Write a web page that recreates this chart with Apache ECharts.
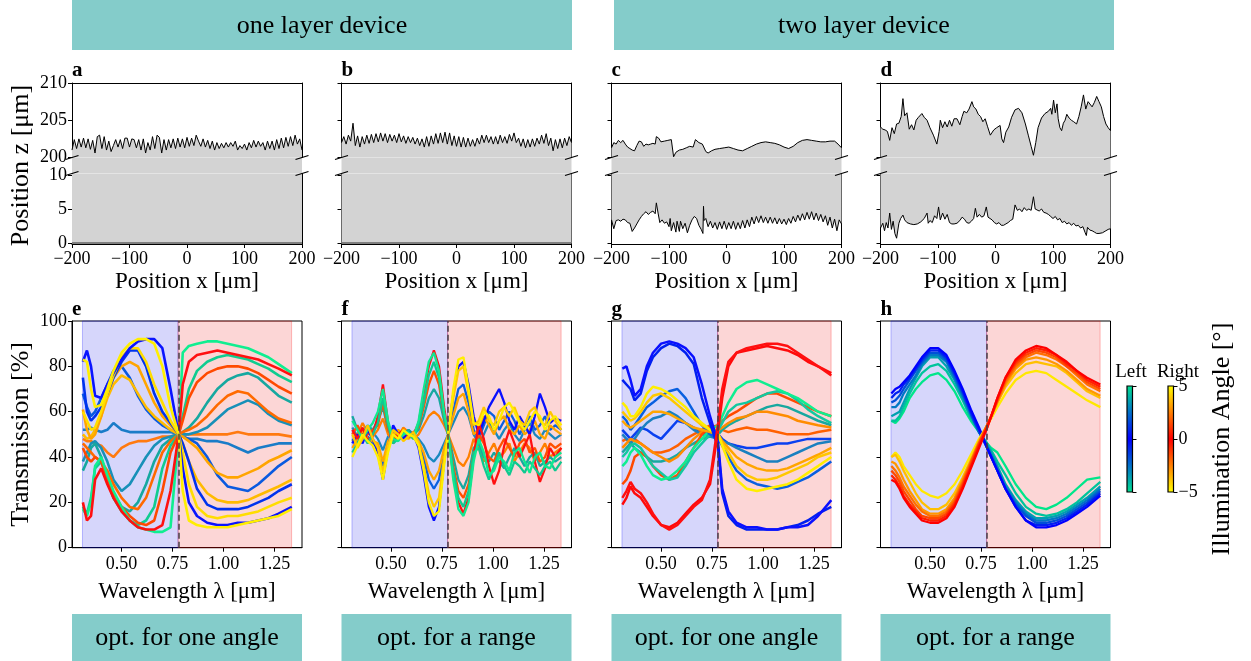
<!DOCTYPE html>
<html>
<head>
<meta charset="utf-8">
<script src="https://cdn.jsdelivr.net/npm/echarts@6/dist/echarts.min.js"></script>
<style>
  html, body { margin: 0; padding: 0; background: #fff; }
  #chart { width: 1251px; height: 661px; }
</style>
</head>
<body>
<div id="chart"></div>
<script>
/* ---------- profile data (top row, a-d) ---------- */
var X_STEP4 = [];
for (var v = -200; v <= 200; v += 4) X_STEP4.push(v);

var A_TOP = [
  201.0,202.4,201.2,202.5,201.4,202.6,201.3,202.5,201.1,202.3,
  200.6,202.8,203.0,201.2,202.8,201.0,202.2,200.8,201.6,202.4,
  201.4,202.4,201.2,202.6,202.6,201.4,202.5,202.4,201.3,202.4,
  201.0,202.5,200.6,202.0,201.0,202.8,201.2,203.0,202.7,200.6,
  202.4,201.0,202.4,201.3,202.5,201.2,202.6,201.4,202.5,201.3,
  202.7,201.5,202.6,201.6,203.0,202.2,201.5,202.5,201.4,202.3,
  201.2,202.2,201.0,202.0,201.2,201.9,201.3,202.0,201.4,202.0,
  201.5,202.2,201.0,201.6,201.2,201.8,201.0,202.0,201.3,202.3,
  201.4,202.2,201.5,202.0,201.0,202.2,201.2,202.2,201.0,202.4,
  201.2,202.6,201.3,202.7,201.5,202.8,201.6,203.0,201.8,202.5,
  201.0
];
var B_TOP = [
  202.0,202.8,201.8,203.0,202.2,204.6,201.6,202.9,201.4,202.8,
  201.8,203.0,201.9,203.1,202.0,203.2,202.1,203.3,202.2,203.2,
  202.0,203.1,202.2,203.0,202.0,203.2,202.1,202.9,201.9,202.8,
  202.0,202.7,201.8,202.6,201.6,202.5,201.4,202.8,201.5,202.9,
  201.8,203.2,201.9,203.3,202.0,203.4,201.8,203.3,201.6,202.9,
  201.5,202.8,201.4,202.7,201.4,202.6,201.5,202.4,201.5,202.6,
  201.8,203.0,202.0,203.0,202.0,202.8,201.8,202.8,201.8,203.0,
  202.0,202.8,201.9,203.1,202.2,203.3,202.0,202.6,201.5,202.5,
  201.3,202.4,201.4,202.5,201.5,202.6,201.8,203.0,201.9,203.2,
  201.6,202.6,200.9,202.4,201.2,202.5,201.3,202.6,201.6,202.8,
  202.0
];
var FLAT_BOTTOM = [[-200, 0], [200, 0]];
var GAP_FILL = [[-200, 1], [200, 1]];

var C_TOP = [[-200,201.3],[-196,202.0],[-192,201.8],[-188,202.3],[-184,202.0],[-180,202.3],[-176,201.8],[-172,201.4],
  [-168,201.2],[-164,201.0],[-160,200.9],[-156,201.6],[-152,202.2],[-148,202.1],[-144,201.5],[-140,201.8],[-136,201.7],
  [-132,201.8],[-128,201.9],[-124,201.8],[-122,202.8],[-118,202.6],[-114,202.1],[-108,202.2],[-102,202.3],[-96,202.4],
  [-93,202.3],[-92,200.1],[-88,200.7],[-82,201.0],[-76,201.1],[-70,201.3],[-64,201.5],[-58,201.4],[-54,202.4],[-52,202.3],
  [-48,202.0],[-42,201.8],[-36,200.8],[-32,200.6],[-26,200.9],[-20,201.1],[-12,201.2],[-4,201.3],[4,201.4],[12,201.2],
  [20,201.0],[28,200.9],[36,201.2],[44,201.5],[52,201.8],[60,202.0],[68,202.1],[76,202.0],[84,201.9],[92,201.7],
  [100,201.4],[108,201.2],[116,201.5],[124,202.0],[132,202.3],[140,202.4],[148,202.3],[156,202.2],[164,202.1],
  [172,202.1],[180,202.2],[188,202.2],[194,201.8],[200,201.3]];
var C_BOT = [[-200,3.4],[-196,2.1],[-192,3.3],[-188,3.4],[-184,3.2],[-180,3.5],[-176,3.4],[-172,3.0],[-168,2.9],
  [-164,1.7],[-160,2.2],[-156,2.8],[-152,3.4],[-148,3.9],[-144,4.3],[-140,4.6],[-136,4.2],[-132,4.5],[-128,4.7],
  [-124,4.3],[-122,5.9],[-119,4.4],[-116,3.0],[-112,3.4],[-108,2.9],[-104,3.1],[-100,2.4],[-98,3.6],[-96,1.8],
  [-92,3.0],[-88,1.6],[-86,3.2],[-82,1.7],[-80,3.2],[-76,2.1],[-72,2.9],[-68,1.5],[-64,2.6],[-60,3.4],[-56,3.9],
  [-52,3.6],[-48,2.6],[-44,2.0],[-41,1.4],[-40,5.4],[-39,3.3],[-36,3.6],[-32,2.4],[-28,3.2],[-24,2.2],[-20,3.0],
  [-16,2.0],[-12,3.1],[-8,2.1],[-4,3.2],[0,2.0],[4,3.0],[8,2.1],[12,3.2],[16,2.0],[20,3.0],[24,2.1],[28,3.3],
  [32,2.2],[36,3.4],[40,2.4],[44,3.8],[48,2.8],[52,3.9],[56,3.0],[60,4.0],[64,3.0],[68,3.8],[72,2.9],[76,3.8],
  [80,2.9],[84,3.7],[88,2.8],[92,3.6],[96,2.8],[100,3.5],[104,2.7],[108,3.6],[112,2.9],[116,3.9],[120,3.1],
  [124,4.1],[128,3.3],[132,4.3],[136,3.4],[140,4.5],[144,3.5],[148,4.6],[152,3.4],[156,4.4],[160,3.3],[164,4.2],
  [168,3.1],[172,4.0],[176,2.6],[180,3.8],[184,2.2],[188,3.5],[192,1.8],[196,3.4],[200,2.8]];

var D_TOP = [[-200,204.1],[-196,203.8],[-192,203.7],[-188,203.5],[-184,202.3],[-180,204.0],[-176,203.2],[-172,204.5],
  [-168,204.6],[-164,205.5],[-161,207.9],[-158,205.6],[-154,206.0],[-150,203.8],[-146,204.4],[-142,203.7],[-138,205.0],
  [-134,205.4],[-128,205.9],[-124,205.4],[-119,205.0],[-114,204.0],[-108,203.0],[-102,201.8],[-98,203.5],[-96,205.0],
  [-92,204.0],[-88,204.8],[-84,204.1],[-80,205.0],[-76,204.2],[-72,205.2],[-67,205.2],[-62,204.4],[-58,205.5],
  [-55,206.2],[-50,206.0],[-46,206.5],[-41,207.5],[-38,206.8],[-34,206.5],[-30,205.8],[-26,205.5],[-22,204.8],
  [-18,205.2],[-14,204.2],[-9,203.0],[-3,203.7],[2,204.0],[8,204.3],[11,202.5],[14,202.0],[18,203.4],[23,204.1],
  [28,205.4],[34,206.4],[40,206.6],[46,206.0],[52,204.5],[57,203.0],[62,201.5],[66,200.3],[70,202.0],[74,204.0],
  [80,205.3],[86,205.9],[92,206.2],[96,206.6],[98,205.8],[101,207.7],[104,206.0],[107,207.2],[109,205.2],[112,204.0],
  [115,203.6],[118,204.6],[121,205.0],[124,205.8],[128,205.3],[132,205.0],[136,204.8],[141,204.5],[145,205.5],
  [149,206.8],[153,208.4],[157,206.5],[161,207.5],[164,207.3],[168,206.8],[172,207.4],[176,208.2],[180,207.5],
  [184,206.8],[188,205.5],[192,204.5],[196,204.0],[200,203.6]];
var D_BOT = [[-200,2.2],[-196,2.9],[-193,1.8],[-190,3.0],[-187,2.2],[-184,4.4],[-181,2.0],[-178,3.2],[-175,1.4],
  [-172,0.7],[-168,2.9],[-165,3.6],[-161,4.1],[-158,3.4],[-154,3.0],[-148,2.8],[-142,2.7],[-136,2.8],[-130,3.1],
  [-124,3.6],[-119,4.4],[-117,2.9],[-114,3.3],[-110,3.0],[-106,4.0],[-102,3.6],[-99,5.3],[-96,3.4],[-92,4.4],
  [-88,3.5],[-84,4.2],[-80,3.0],[-76,2.8],[-72,2.8],[-67,2.9],[-62,3.3],[-58,3.8],[-54,3.5],[-50,3.0],[-46,2.9],
  [-42,3.2],[-38,3.6],[-35,5.1],[-32,3.8],[-28,4.2],[-24,3.8],[-20,4.0],[-16,5.3],[-13,3.8],[-10,3.9],[-6,3.4],
  [-2,3.0],[2,2.8],[6,3.0],[10,2.6],[14,2.6],[18,2.8],[22,3.0],[26,3.3],[30,3.5],[34,5.6],[38,4.8],[42,5.0],
  [46,4.6],[50,5.2],[54,4.8],[58,5.0],[62,4.8],[66,6.8],[69,5.0],[72,5.2],[76,4.7],[80,5.0],[84,4.5],[88,4.4],
  [92,4.2],[96,3.9],[100,3.6],[104,3.9],[108,3.4],[112,3.6],[116,3.0],[120,3.2],[124,2.8],[128,3.0],[132,2.6],
  [136,2.9],[140,2.5],[144,2.6],[148,2.2],[152,2.4],[156,1.5],[158,1.1],[160,2.3],[164,1.9],[168,1.8],[172,1.6],
  [176,1.4],[180,1.4],[186,1.5],[192,1.8],[196,2.0],[200,2.1]];

/* ---------- transmission data (bottom row, e-h) ---------- */
var WL = [0.31,0.33,0.35,0.37,0.40,0.43,0.46,0.50,0.54,0.58,0.62,0.66,0.70,0.74,0.78,0.80,0.83,0.87,0.92,0.97,1.02,1.07,1.12,1.17,1.22,1.27,1.335];
var WL_F = [0.31,0.335,0.36,0.385,0.41,0.435,0.46,0.485,0.51,0.535,0.56,0.585,0.61,0.635,0.66,0.685,0.71,0.735,0.76,0.78,
  0.805,0.83,0.855,0.88,0.905,0.93,0.955,0.98,1.005,1.03,1.055,1.08,1.105,1.13,1.155,1.18,1.205,1.23,1.255,1.28,1.305,1.335];
var BLUE_BAND = [0.308, 0.777];
var RED_BAND = [0.777, 1.334];
var DIVIDER = 0.777;

// e: one layer, one angle
var E_BLUE_A = [82,87,80,67,66,72,77,83,88,91,92,92,88,70,50,35,20,14,11,10,10,11,11,12,13,15,18];
var E_BLUE_B = [75,60,56,58,62,68,75,82,87,87,80,68,60,55,50,46,38,26,19,17,17,17,18,20,22,25,28];
var E_YELLOW_A = [83,82,70,62,63,70,78,86,90,92,92,90,80,62,50,25,12,10,9,9,9,10,11,12,13,14,17];
var E_YELLOW_B = [60,56,52,53,60,68,76,84,88,88,82,72,64,56,50,42,28,18,14,13,14,14,15,16,18,20,22];
var E_ORANGE_A = [61,52,48,50,58,68,75,80,82,80,72,64,58,54,50,49,47,44,38,33,31,31,33,35,38,40,43];
var E_ORANGE_B = [50,48,49,52,58,66,72,76,74,68,62,58,55,52,50,46,38,30,24,21,20,20,21,23,25,27,30];
var E_BLUE_C = [68,62,58,60,66,72,78,80,75,67,61,57,54,52,50,49,48,46,40,32,27,26,25,28,32,36,40];
var E_FLAT_BLUE = [52,52,53,52,51,52,55,52,51,51,51,51,51,51,50,49,48,48,47,47,46,44,42,44,45,46,46];
var E_FLAT_ORANGE = [48,47,47,46,45,42,40,44,46,47,47,48,49,49,50,50,50,50,50,50,50,51,50,50,50,50,49];
var E_RED_A = [20,12,14,30,35,28,22,16,12,9,8,8,10,25,50,72,82,85,86,87,86,85,84,83,81,79,76];
var E_RED_B = [44,40,38,40,38,30,24,18,14,11,10,12,25,42,50,56,66,73,77,79,80,80,79,77,74,71,68];
var E_RED_C = [46,44,42,40,38,34,28,22,18,17,22,32,42,47,50,51,52,54,58,63,67,69,68,64,60,57,55];
var E_GREEN_A = [17,14,20,36,40,32,25,18,12,9,8,7,7,9,50,86,89,90,91,91,90,89,88,86,84,81,77];
var E_GREEN_B = [18,15,22,35,38,30,22,16,12,10,12,18,35,45,50,58,70,78,82,84,85,84,83,81,79,76,73];
var E_TEAL_C = [34,38,44,46,40,30,22,18,16,20,28,38,45,48,50,51,53,57,64,70,74,76,77,75,71,67,64];
var E_TEAL_D = [38,42,46,47,44,38,30,25,28,34,40,45,48,49,50,50,50,51,53,57,61,63,65,63,59,56,54];

// f: one layer, range of angles
var F_RED = [52,48,53,47,50,58,72,55,46,50,52,49,50,55,68,80,87,80,62,50,32,20,15,22,40,55,48,36,28,34,45,52,46,40,45,50,38,29,35,44,40,44];
var F_GREEN = [56,52,48,52,55,60,70,56,48,47,50,51,49,56,70,82,86,78,60,50,30,17,14,20,38,48,42,32,34,40,38,34,42,44,38,33,40,42,36,35,40,42];
var F_BLUE = [46,50,46,52,48,42,30,44,54,50,48,51,50,44,32,18,12,18,38,50,68,80,82,72,58,50,56,62,66,70,64,56,52,58,54,50,58,68,62,55,57,56];
var F_YELLOW = [40,45,50,47,45,40,30,42,50,48,52,50,49,45,34,20,14,16,36,50,70,83,84,70,55,54,60,58,52,56,62,64,60,55,52,56,60,58,52,56,58,54];
var F_ORANGE_RED = [50,54,49,50,52,54,64,52,48,51,50,50,51,53,62,72,78,72,58,50,36,25,22,28,42,50,46,40,38,44,48,44,40,46,48,42,44,38,40,46,44,46];
var F_TEAL = [58,52,50,54,52,56,62,52,49,50,50,52,50,52,58,66,70,66,56,50,40,30,26,32,44,46,40,38,42,38,35,40,44,40,36,40,42,36,38,40,38,40];
var F_MID_BLUE = [48,46,51,49,46,44,36,46,52,51,49,50,49,46,40,30,26,30,42,50,60,70,72,64,52,48,54,60,58,52,56,60,56,50,54,58,52,54,58,52,54,52];
var F_LIGHT_ORANGE = [44,48,52,48,47,46,38,47,50,52,50,48,50,47,42,34,30,34,44,50,58,66,68,60,50,52,58,54,50,56,58,52,50,54,50,52,56,50,48,54,52,50];
var F_ORANGE = [47,50,55,51,49,52,57,50,47,49,53,51,48,50,54,58,60,58,54,50,44,38,36,40,48,44,38,42,46,40,42,46,38,42,46,44,38,42,46,40,42,44];
var F_BLUE_TEAL = [53,49,47,53,51,48,43,49,51,48,49,52,50,48,45,40,38,41,46,50,55,60,62,58,50,46,50,55,52,48,52,55,50,47,52,55,50,48,52,50,48,50];
var F_GREEN_TEAL = [42,46,50,46,50,55,66,54,46,48,51,50,48,54,64,76,82,75,58,50,34,22,18,25,42,44,36,30,36,42,36,32,38,36,33,38,35,32,36,38,34,38];
var F_GOLD = [50,44,48,54,48,44,33,45,52,50,47,49,51,46,36,24,18,22,40,50,66,78,80,68,54,56,62,56,54,60,62,58,62,56,54,60,62,56,54,60,56,52];

// g: two layer, one angle
var G_BLUE_A = [79,80,74,67,70,80,86,90,91,90,88,84,72,58,46,26,16,11,9,9,8,8,9,9,10,14,21];
var G_BLUE_B = [74,72,70,65,68,78,84,88,90,89,86,81,66,55,44,24,14,10,8,8,8,8,9,10,12,15,18];
var G_RED_A = [22,25,29,26,24,20,15,10,8,10,14,18,21,30,55,70,82,86,88,89,90,90,89,86,83,80,76];
var G_RED_B = [19,22,27,24,22,18,14,10,9,11,15,19,22,28,52,66,80,86,87,88,89,88,87,85,82,80,77];
var G_GREEN = [36,38,42,44,41,36,32,30,31,34,38,44,48,52,54,58,64,70,73,74,72,70,68,66,63,60,58];
var G_TEAL_GREEN = [40,42,45,46,44,40,36,33,30,31,36,42,46,50,52,55,60,63,64,66,68,69,68,65,61,58,55];
var G_RED_ORANGE = [28,30,34,40,42,40,36,32,30,32,38,44,50,53,54,56,58,60,63,66,68,68,66,64,62,60,58];
var G_ORANGE = [44,46,48,47,46,44,42,40,38,40,44,48,51,52,52,53,55,57,58,60,60,59,58,56,55,54,53];
var G_YELLOW = [64,62,58,58,62,68,71,70,68,65,62,58,55,52,50,45,38,30,26,25,26,27,28,30,33,36,40];
var G_GOLD = [60,58,56,57,60,64,67,68,66,63,60,57,54,52,50,46,42,36,32,30,30,31,33,35,37,40,42];
var G_AMBER = [56,54,53,54,56,58,60,60,59,57,55,53,52,51,50,47,44,40,37,35,34,34,35,37,39,41,44];
var G_MID_BLUE = [58,56,52,54,58,62,64,67,69,70,66,60,54,50,48,45,40,34,30,28,27,26,27,29,31,34,38];
var G_BLUE_TEAL = [50,48,46,48,52,55,57,58,60,58,55,52,50,49,48,47,46,44,42,40,38,38,40,42,44,46,47];
var G_TEAL = [42,44,46,44,42,40,38,38,39,41,44,46,48,49,50,52,54,56,58,60,62,63,62,60,58,56,54];
var G_FLAT_ORANGE = [47,48,46,48,46,44,42,42,43,45,48,50,52,54,53,52,51,52,53,52,52,51,50,50,50,51,52];
var G_FLAT_BLUE = [52,50,48,50,53,52,50,48,52,56,55,53,51,50,50,48,46,45,44,44,45,46,46,47,48,48,48];

// h: two layer, range of angles
var H_LEFT_0 = [68,70,71,73,76,80,84,88,88,85,78,70,61,53,44,40,34,26,18,12,9,9,10,12,15,18,23];
var H_LEFT_1 = [66,68,69,72,75,79,83,87,87,84,77,69,60,52,44,40,34,26,18,12,10,10,11,13,16,19,24];
var H_LEFT_2 = [64,65,67,70,74,78,82,86,86,83,76,68,59,51,44,40,34,26,19,14,11,11,12,14,17,20,25];
var H_LEFT_3 = [62,62,64,68,72,76,81,85,85,82,75,67,59,51,45,41,35,27,20,15,12,12,13,15,18,21,26];
var H_LEFT_4 = [58,59,60,64,70,75,80,84,84,80,74,66,58,51,45,42,36,28,21,16,13,13,14,16,19,22,27];
var H_LEFT_5 = [56,56,58,62,68,73,77,80,81,78,72,65,57,51,46,43,38,32,24,18,15,14,15,17,20,24,29];
var H_LEFT_6 = [56,55,57,60,66,70,73,76,77,74,69,62,56,51,46,44,42,36,28,22,18,17,19,22,26,30,31];
var H_RIGHT_0 = [30,29,26,22,18,15,12,11,11,13,18,26,35,44,53,58,66,75,83,87,89,88,85,82,78,75,72];
var H_RIGHT_1 = [32,30,27,23,19,16,13,12,12,14,19,27,36,45,53,58,66,75,82,86,88,87,85,81,78,74,71];
var H_RIGHT_2 = [34,32,29,25,21,17,14,13,13,15,20,28,37,46,54,58,65,74,81,85,87,86,84,80,77,73,70];
var H_RIGHT_3 = [36,34,31,27,23,19,16,14,14,16,21,29,38,46,54,58,65,73,80,84,86,85,83,80,76,72,69];
var H_RIGHT_4 = [38,37,34,30,25,21,17,15,15,17,22,30,38,47,54,58,64,72,79,83,84,83,81,78,74,70,67];
var H_RIGHT_5 = [40,41,38,34,29,24,20,17,17,19,24,31,39,47,54,58,64,71,77,81,82,81,80,77,73,69,66];
var H_RIGHT_6 = [40,42,40,36,32,28,25,23,22,24,28,34,41,48,54,57,62,68,74,77,78,77,74,71,68,65,62];

/* ---------- layout / style ---------- */
var FONT = 'Liberation Serif';
var LEFTS = [72, 341.5, 611.5, 880.5];
var PW = 230;
var UP_TOP = 83, UP_H = 74.5, GAP_H = 16, LOW_H = 70.5;
var BOT_TOP = 321, BOT_H = 226.7;
var FILL = '#d3d3d3';
var BANNER = '#84ccca';
var AXLINE = { show: true, onZero: false, lineStyle: { color: '#000', width: 1 } };

var grids = [], xAxes = [], yAxes = [], series = [], graphics = [];

function signed(v) { return v < 0 ? '\u2212' + (-v) : String(v); }
function pairs(xs, ys) { return xs.map(function (x, k) { return [x, ys[k]]; }); }
function tick(vals) {
  var t = { show: true, length: 4, lineStyle: { color: '#000', width: 1 } };
  if (vals) t.customValues = vals;
  return t;
}
function label(show, size, margin, vals, fmt) {
  var l = { show: show, color: '#000', fontFamily: FONT, fontSize: size, margin: margin };
  if (vals) l.customValues = vals;
  if (fmt) l.formatter = fmt;
  return l;
}
function nameStyle(size) { return { color: '#000', fontFamily: FONT, fontSize: size }; }
function addGrid(left, top, width, height, extra) {
  var g = { left: left, top: top, width: width, height: height, outerBoundsMode: 'none' };
  for (var k in extra) g[k] = extra[k];
  return grids.push(g) - 1;
}
function plain(extra) {
  var a = { type: 'value', splitLine: { show: false }, axisLine: { show: false, onZero: false },
            axisTick: { show: false }, axisLabel: { show: false } };
  for (var k in extra) a[k] = extra[k];
  return a;
}

/* ---------- top row ---------- */
function topPanel(i, topCurve, botCurve, flat) {
  var L = LEFTS[i], lab = i === 0;
  // upper part, 200-210
  var gU = addGrid(L, UP_TOP, PW, UP_H);
  var xU = xAxes.push(plain({ gridIndex: gU, position: 'top', min: -200, max: 200, axisLine: AXLINE })) - 1;
  var yU = yAxes.push(plain({ gridIndex: gU, min: 200, max: 210, interval: 5, axisLine: AXLINE,
    axisTick: tick(), axisLabel: label(lab, 18, 5) })) - 1;
  yAxes.push(plain({ gridIndex: gU, position: 'right', min: 200, max: 210, axisLine: AXLINE }));
  series.push({ type: 'line', xAxisIndex: xU, yAxisIndex: yU, data: topCurve, symbol: 'none', z: 3,
    lineStyle: { color: '#000', width: 1 }, areaStyle: { color: FILL, opacity: 1, origin: 'start' } });

  // break gap
  var gG = addGrid(L, UP_TOP + UP_H, PW, GAP_H);
  var xG = xAxes.push(plain({ gridIndex: gG, show: false, min: -200, max: 200 })) - 1;
  var yG = yAxes.push(plain({ gridIndex: gG, min: 0, max: 1, name: lab ? 'Position z [\u03bcm]' : '',
    nameLocation: 'middle', nameGap: 38, nameMoveOverlap: false, nameTextStyle: nameStyle(26) })) - 1;
  series.push({ type: 'line', xAxisIndex: xG, yAxisIndex: yG, data: GAP_FILL, symbol: 'none',
    lineStyle: { width: 0 }, areaStyle: { color: FILL, opacity: 1 } });

  // lower part, 0-10
  var gL = addGrid(L, UP_TOP + UP_H + GAP_H, PW, LOW_H);
  var xL = xAxes.push(plain({ gridIndex: gL, min: -200, max: 200, interval: 100, axisLine: AXLINE,
    axisTick: tick(), axisLabel: label(true, 18, 6, null, signed),
    name: 'Position x [\u03bcm]', nameLocation: 'middle', nameGap: 26, nameMoveOverlap: false,
    nameTextStyle: nameStyle(23) })) - 1;
  var yL = yAxes.push(plain({ gridIndex: gL, min: -0.15, max: 10.22, axisLine: AXLINE,
    axisTick: tick([0, 5, 10]), axisLabel: label(lab, 18, 5, [0, 5, 10]) })) - 1;
  yAxes.push(plain({ gridIndex: gL, position: 'right', min: -0.15, max: 10.22, axisLine: AXLINE }));
  series.push({ type: 'line', xAxisIndex: xL, yAxisIndex: yL, data: botCurve, symbol: 'none', z: 3,
    lineStyle: flat ? { color: '#7f7f7f', width: 2 } : { color: '#000', width: 1 },
    areaStyle: { color: FILL, opacity: 1, origin: 'end' } });

  // break marks on both sides
  [L, L + PW].forEach(function (x) {
    [UP_TOP + UP_H, UP_TOP + UP_H + GAP_H].forEach(function (y) {
      graphics.push({ type: 'line', z: 50, shape: { x1: x - 6.5, y1: y + 2, x2: x + 6.5, y2: y - 2 },
        style: { stroke: '#000', lineWidth: 1.3 } });
    });
  });
  graphics.push({ type: 'text', z: 50, style: { text: 'abcd'[i], x: L, y: 81, font: 'bold 21px "Liberation Serif"',
    fill: '#000', textAlign: 'left', textVerticalAlign: 'bottom', align: 'left', verticalAlign: 'bottom' } });
}

/* ---------- bottom row ---------- */
function bottomPanel(i, xs, lines, width) {
  var L = LEFTS[i], lab = i === 0;
  var g = addGrid(L, BOT_TOP, PW, BOT_H, { show: true, borderColor: '#000', borderWidth: 1, backgroundColor: 'transparent' });
  var xi = xAxes.push(plain({ gridIndex: g, min: 0.2567, max: 1.385, axisLine: AXLINE,
    axisTick: tick([0.5, 0.75, 1, 1.25]),
    axisLabel: label(true, 18, 8, [0.5, 0.75, 1, 1.25], function (v) { return v.toFixed(2); }),
    name: 'Wavelength \u03bb [\u03bcm]', nameLocation: 'middle', nameGap: 33, nameMoveOverlap: false,
    nameTextStyle: nameStyle(23) })) - 1;
  var yi = yAxes.push(plain({ gridIndex: g, min: 0, max: 100, interval: 20, axisLine: AXLINE,
    axisTick: tick(), axisLabel: label(lab, 18, 5),
    name: lab ? 'Transmission [%]' : '', nameLocation: 'middle', nameGap: 38, nameMoveOverlap: false,
    nameTextStyle: nameStyle(26) })) - 1;
  series.push({ type: 'line', xAxisIndex: xi, yAxisIndex: yi, data: [], z: 1, silent: true,
    markArea: { silent: true, data: [
      [{ xAxis: BLUE_BAND[0], itemStyle: { color: 'rgba(0,0,230,0.16)', borderColor: 'rgba(0,0,255,0.25)', borderWidth: 1 } }, { xAxis: BLUE_BAND[1] }],
      [{ xAxis: RED_BAND[0], itemStyle: { color: 'rgba(235,0,0,0.16)', borderColor: 'rgba(255,0,0,0.25)', borderWidth: 1 } }, { xAxis: RED_BAND[1] }]
    ] },
    markLine: { silent: true, symbol: 'none', label: { show: false },
      lineStyle: { color: 'rgba(70,60,70,0.75)', width: 2, type: [6, 3] }, data: [{ xAxis: DIVIDER }] } });
  lines.forEach(function (l) {
    series.push({ type: 'line', xAxisIndex: xi, yAxisIndex: yi, data: pairs(xs, l[1]), symbol: 'none', z: 2,
      lineStyle: { color: l[0], width: width } });
  });
  graphics.push({ type: 'text', z: 50, style: { text: 'efgh'[i], x: L, y: 320, font: 'bold 21px "Liberation Serif"',
    fill: '#000', textAlign: 'left', textVerticalAlign: 'bottom', align: 'left', verticalAlign: 'bottom' } });
}

topPanel(0, pairs(X_STEP4, A_TOP), FLAT_BOTTOM, true);
topPanel(1, pairs(X_STEP4, B_TOP), FLAT_BOTTOM, true);
topPanel(2, C_TOP, C_BOT, false);
topPanel(3, D_TOP, D_BOT, false);

bottomPanel(0, WL, [
  ['#1a7cc8', E_FLAT_BLUE], ['#ff7a10', E_FLAT_ORANGE], ['#1890b8', E_TEAL_D], ['#16a8a0', E_TEAL_C],
  ['#ff6a00', E_RED_C], ['#0a5ae0', E_BLUE_C], ['#ffbb00', E_ORANGE_B], ['#ffa500', E_ORANGE_A],
  ['#10cc90', E_GREEN_B], ['#ff4a00', E_RED_B], ['#0033ee', E_BLUE_B], ['#ffdd00', E_YELLOW_B],
  ['#10ee90', E_GREEN_A], ['#ff1010', E_RED_A], ['#0a14ff', E_BLUE_A], ['#ffee00', E_YELLOW_A]
], 2.6);
bottomPanel(1, WL_F, [
  ['#1888c0', F_BLUE_TEAL], ['#ff8000', F_ORANGE], ['#18a8a0', F_TEAL], ['#0a60e0', F_MID_BLUE],
  ['#ff5000', F_ORANGE_RED], ['#ffa500', F_LIGHT_ORANGE], ['#0a10ff', F_BLUE], ['#ff1010', F_RED],
  ['#10c890', F_GREEN_TEAL], ['#10e890', F_GREEN], ['#ffc800', F_GOLD], ['#ffee00', F_YELLOW]
], 2.3);
bottomPanel(2, WL, [
  ['#0a40f0', G_FLAT_BLUE], ['#ff6000', G_FLAT_ORANGE], ['#1a80c0', G_BLUE_TEAL], ['#18a8a0', G_TEAL],
  ['#ff8c00', G_ORANGE], ['#ff4a00', G_RED_ORANGE], ['#12c8a0', G_TEAL_GREEN], ['#10ee90', G_GREEN],
  ['#0a60e0', G_MID_BLUE], ['#ffa500', G_AMBER], ['#ffc800', G_GOLD], ['#ffee00', G_YELLOW],
  ['#0020f0', G_BLUE_B], ['#0a10ff', G_BLUE_A], ['#ff0a0a', G_RED_B], ['#ff1010', G_RED_A]
], 2.5);
bottomPanel(3, WL, [
  ['#00e68a', H_LEFT_6], ['#00c49c', H_LEFT_5], ['#00a0b0', H_LEFT_4], ['#0078c4', H_LEFT_3],
  ['#0050d8', H_LEFT_2], ['#0020f0', H_LEFT_1], ['#0000ff', H_LEFT_0],
  ['#ffe800', H_RIGHT_6], ['#ffc000', H_RIGHT_5], ['#ff9800', H_RIGHT_4], ['#ff7000', H_RIGHT_3],
  ['#ff4800', H_RIGHT_2], ['#ff2000', H_RIGHT_1], ['#ff0000', H_RIGHT_0]
], 2.3);

/* ---------- colour bars ---------- */
var CB_TOP = 386, CB_H = 106, CB_W = 5.5;
var CB_LEFTS = [1127, 1168];
var CB_STOPS = [
  [[0, '#00e08f'], [0.25, '#0070c8'], [0.5, '#0000ff'], [0.75, '#0070c8'], [1, '#00e08f']],
  [[0, '#ffff00'], [0.25, '#ff8000'], [0.5, '#ff0000'], [0.75, '#ff8000'], [1, '#ffff00']]
];
CB_LEFTS.forEach(function (cx, k) {
  var g = addGrid(cx, CB_TOP, CB_W, CB_H);
  xAxes.push(plain({ gridIndex: g, show: false, min: 0, max: 1 }));
  yAxes.push(plain({ gridIndex: g, position: 'right', min: -5, max: 5, interval: 5,
    axisTick: tick(), axisLabel: label(k === 1, 18, 5, null, signed),
    name: k === 1 ? 'Illumination Angle [\u00b0]' : '', nameLocation: 'middle', nameGap: 36,
    nameMoveOverlap: false, nameTextStyle: nameStyle(26) }));
  graphics.push({ type: 'rect', z: 40, shape: { x: cx, y: CB_TOP, width: CB_W, height: CB_H },
    style: { stroke: '#000', lineWidth: 1.2, fill: { type: 'linear', x: 0, y: 0, x2: 0, y2: 1,
      colorStops: CB_STOPS[k].map(function (s) { return { offset: s[0], color: s[1] }; }) } } });
  graphics.push({ type: 'text', z: 40, style: { text: k === 0 ? 'Left' : 'Right', x: k === 0 ? 1131 : 1178, y: 372,
    font: '19px "Liberation Serif"', fill: '#000', textAlign: 'center', textVerticalAlign: 'middle',
    align: 'center', verticalAlign: 'middle' } });
});

/* ---------- banners ---------- */
function banner(x, y, w, h, text) {
  graphics.push({ type: 'rect', z: 30, shape: { x: x, y: y, width: w, height: h }, style: { fill: BANNER } });
  graphics.push({ type: 'text', z: 31, style: { text: text, x: x + w / 2, y: y + h / 2 + 1,
    font: '26px "Liberation Serif"', fill: '#000', textAlign: 'center', textVerticalAlign: 'middle',
    align: 'center', verticalAlign: 'middle' } });
}
banner(72, 0, 500, 50, 'one layer device');
banner(614, 0, 500, 50, 'two layer device');
['opt. for one angle', 'opt. for a range', 'opt. for one angle', 'opt. for a range'].forEach(function (t, k) {
  banner(LEFTS[k], 614, PW, 47, t);
});

var chart = echarts.init(document.getElementById('chart'), null, { renderer: 'canvas', width: 1251, height: 661 });
chart.setOption({
  animation: false,
  backgroundColor: '#fff',
  tooltip: { show: false },
  grid: grids,
  xAxis: xAxes,
  yAxis: yAxes,
  series: series,
  graphic: { elements: graphics }
});
</script>
</body>
</html>
